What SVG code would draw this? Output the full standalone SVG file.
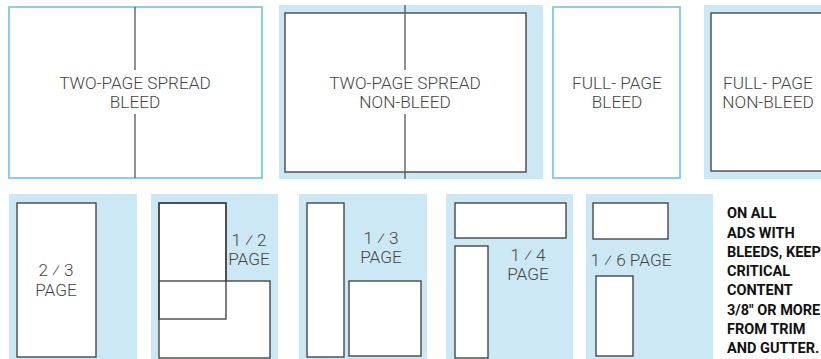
<svg xmlns="http://www.w3.org/2000/svg" width="821" height="359" viewBox="0 0 821 359">
<style>
.bg{fill:#cce8f5;stroke:none}
.bleed{fill:#ffffff;stroke:#6cc2e8;stroke-width:1.6}
.trim{fill:#ffffff;stroke:#3a3a3a;stroke-width:1.3}
.ol{fill:none;stroke:#3a3a3a;stroke-width:1.3}
.gut{stroke:#555555;stroke-width:1.3}
.lbl{font-family:Roboto,"Liberation Sans",sans-serif;font-weight:300;font-size:17.2px;fill:#444444;text-anchor:middle}
.note{font-family:Roboto,"Liberation Sans",sans-serif;font-weight:700;font-size:14.5px;fill:#111111}
</style>
<rect width="821" height="359" fill="#ffffff"/>
<g id="spread-bleed">
<rect class="bleed" x="9" y="7" width="253" height="171"/>
<text class="lbl" x="135" y="89">TWO-PAGE SPREAD</text>
<text class="lbl" x="135" y="108">BLEED</text>
</g>
<g id="spread-nonbleed">
<rect class="bg" x="279" y="5" width="264" height="174"/>
<rect class="trim" x="285" y="13" width="241" height="159"/>
<text class="lbl" x="405" y="89">TWO-PAGE SPREAD</text>
<text class="lbl" x="405" y="108">NON-BLEED</text>
</g>
<g id="full-bleed">
<rect class="bleed" x="553" y="7" width="127" height="171"/>
<text class="lbl" x="617" y="89">FULL- PAGE</text>
<text class="lbl" x="617" y="108">BLEED</text>
</g>
<g id="full-nonbleed">
<rect class="bg" x="704" y="5" width="120" height="174"/>
<rect class="trim" x="711" y="13" width="115" height="158"/>
<text class="lbl" x="768" y="89">FULL- PAGE</text>
<text class="lbl" x="768" y="108">NON-BLEED</text>
</g>
<g id="two-thirds">
<rect class="bg" x="9" y="194" width="128" height="165"/>
<rect class="trim" x="17" y="203" width="79" height="154"/>
<text class="lbl" x="56" y="276">2 ⁄ 3</text>
<text class="lbl" x="56" y="296">PAGE</text>
</g>
<g id="half">
<rect class="bg" x="151" y="194" width="127" height="165"/>
<rect class="trim" x="159" y="203" width="67" height="116"/>
<rect class="trim" x="159" y="281" width="111" height="77"/>
<rect class="ol" x="159" y="203" width="67" height="116"/>
<text class="lbl" x="249" y="246">1 ⁄ 2</text>
<text class="lbl" x="249" y="265">PAGE</text>
</g>
<g id="third">
<rect class="bg" x="299" y="194" width="128" height="165"/>
<rect class="trim" x="307" y="203" width="37" height="154"/>
<rect class="trim" x="349" y="281" width="72" height="75"/>
<text class="lbl" x="381" y="244">1 ⁄ 3</text>
<text class="lbl" x="381" y="263">PAGE</text>
</g>
<g id="quarter">
<rect class="bg" x="446" y="194" width="127" height="165"/>
<rect class="trim" x="455" y="203" width="111" height="35"/>
<rect class="trim" x="455" y="246" width="33" height="112"/>
<text class="lbl" x="528" y="261">1 ⁄ 4</text>
<text class="lbl" x="528" y="280">PAGE</text>
</g>
<g id="sixth">
<rect class="bg" x="586" y="194" width="127" height="165"/>
<rect class="trim" x="593" y="203" width="75" height="36"/>
<text class="lbl" x="631" y="266">1 ⁄ 6 PAGE</text>
<rect class="trim" x="596" y="276" width="37" height="80"/>
</g>
<g id="connectors">
<line class="gut" x1="135" y1="7" x2="135" y2="70"/>
<line class="gut" x1="135" y1="114" x2="135" y2="178"/>
<line class="gut" x1="405" y1="5" x2="405" y2="70"/>
<line class="gut" x1="405" y1="114" x2="405" y2="179"/>
</g>
<g id="note">
<text class="note" x="727" y="218">ON ALL</text>
<text class="note" x="727" y="238">ADS WITH</text>
<text class="note" x="727" y="257">BLEEDS, KEEP</text>
<text class="note" x="727" y="276">CRITICAL</text>
<text class="note" x="727" y="295">CONTENT</text>
<text class="note" x="727" y="315">3/8" OR MORE</text>
<text class="note" x="727" y="334">FROM TRIM</text>
<text class="note" x="727" y="353">AND GUTTER.</text>
</g>
</svg>
